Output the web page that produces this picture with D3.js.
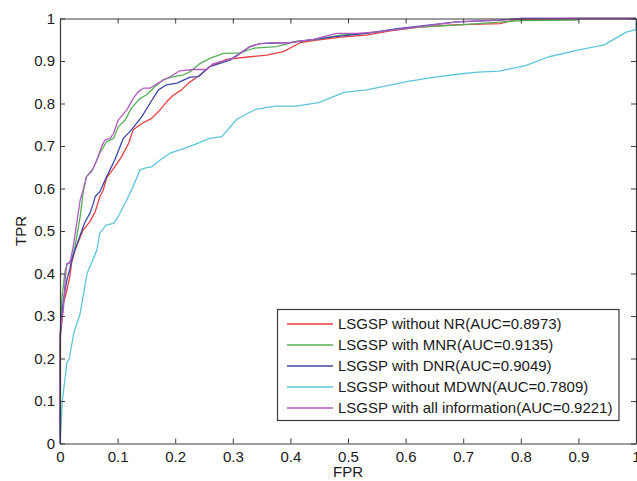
<!DOCTYPE html>
<html>
<head>
<meta charset="utf-8">
<script src="https://cdn.jsdelivr.net/npm/d3@7"></script>
<style>
  html, body { margin: 0; padding: 0; background: #fff; }
  svg { display: block; font-family: Arial, "Liberation Sans", sans-serif; }
</style>
</head>
<body>
<svg id="chart" width="637" height="481"></svg>
<script>
// ---- Data (FPR, TPR) ----
const seriesNames = [
  "LSGSP without NR(AUC=0.8973)",
  "LSGSP with MNR(AUC=0.9135)",
  "LSGSP with DNR(AUC=0.9049)",
  "LSGSP without MDWN(AUC=0.7809)",
  "LSGSP with all information(AUC=0.9221)"
];
const seriesColors = ["#e8403f", "#55b055", "#3c48aa", "#5cc6dc", "#b25cc0"];

const withoutNR = [[0,0],[0,.25],[.003,.283],[.006,.33],[.012,.361],[.017,.392],[.020,.424],[.026,.455],[.032,.475],[.040,.502],[.052,.522],[.061,.545],[.069,.58],[.075,.596],[.081,.625],[.095,.651],[.107,.675],[.119,.706],[.127,.738],[.142,.753],[.159,.765],[.171,.781],[.185,.804],[.197,.820],[.211,.832],[.223,.848],[.243,.867],[.260,.887],[.289,.904],[.330,.910],[.359,.914],[.388,.922],[.417,.943],[.446,.949],[.492,.957],[.532,.961],[.573,.971],[.625,.980],[.683,.985],[.764,.988],[.793,.998],[.89,1],[1,1]];
const withMNR = [[0,0],[0,.24],[.003,.338],[.009,.408],[.012,.42],[.020,.432],[.026,.463],[.035,.534],[.040,.589],[.046,.628],[.058,.648],[.069,.683],[.081,.710],[.093,.718],[.101,.745],[.113,.761],[.124,.789],[.139,.812],[.150,.820],[.165,.840],[.179,.856],[.197,.863],[.214,.867],[.226,.875],[.243,.894],[.260,.906],[.284,.918],[.313,.919],[.336,.930],[.376,.934],[.411,.947],[.446,.951],[.486,.961],[.532,.965],[.573,.973],[.625,.980],[.694,.985],[.799,.995],[.897,.996],[.9,1],[1,1]];
const withDNR = [[0,0],[0,.24],[.003,.298],[.006,.338],[.012,.385],[.017,.41],[.020,.43],[.026,.455],[.035,.49],[.043,.52],[.052,.542],[.058,.565],[.061,.581],[.069,.592],[.081,.628],[.095,.667],[.110,.718],[.124,.738],[.142,.769],[.156,.80],[.171,.832],[.185,.844],[.203,.848],[.226,.862],[.240,.863],[.260,.887],[.295,.902],[.330,.934],[.347,.941],[.40,.943],[.474,.957],[.532,.965],[.590,.977],[.689,.992],[.764,.996],[.80,1],[1,1]];
const withoutMDWN = [[0,0],[.004,.1],[.012,.19],[.016,.2],[.024,.26],[.035,.306],[.047,.40],[.064,.455],[.069,.495],[.080,.514],[.093,.518],[.101,.534],[.116,.573],[.127,.605],[.139,.644],[.150,.649],[.159,.651],[.174,.667],[.191,.683],[.208,.691],[.231,.702],[.260,.718],[.281,.722],[.307,.763],[.339,.786],[.374,.794],[.410,.794],[.449,.802],[.493,.826],[.532,.832],[.569,.842],[.604,.852],[.651,.862],[.697,.870],[.726,.874],[.762,.876],[.808,.889],[.849,.910],[.901,.926],[.945,.938],[.983,.968],[1,.974],[1,1]];
const withAll = [[0,0],[0,.26],[.006,.318],[.009,.385],[.012,.424],[.017,.424],[.023,.463],[.029,.518],[.035,.573],[.040,.596],[.046,.628],[.055,.640],[.064,.667],[.072,.698],[.078,.714],[.087,.718],[.093,.730],[.101,.761],[.116,.785],[.127,.812],[.136,.828],[.145,.836],[.156,.836],[.174,.851],[.191,.863],[.208,.877],[.231,.880],[.255,.880],[.266,.894],[.301,.906],[.330,.934],[.347,.941],[.370,.943],[.399,.943],[.440,.951],[.480,.965],[.515,.965],[.556,.969],[.602,.977],[.689,.992],[.764,.996],[.80,1],[1,1]];

const xTicks = [0, 0.1, 0.2, 0.3, 0.4, 0.5, 0.6, 0.7, 0.8, 0.9, 1];
const yTicks = [0, 0.1, 0.2, 0.3, 0.4, 0.5, 0.6, 0.7, 0.8, 0.9, 1];
const tickLabels = ["0", "0.1", "0.2", "0.3", "0.4", "0.5", "0.6", "0.7", "0.8", "0.9", "1"];
const xLabel = "FPR", yLabel = "TPR";

// ---- Layout ----
const svg = d3.select("#chart");
const L = 60, R = 636, T = 18.5, B = 443.5;
const x = d3.scaleLinear().domain([0, 1]).range([L, R]);
const y = d3.scaleLinear().domain([0, 1]).range([B, T]);
const axisColor = "#3a3a3a";
const fmt = d => tickLabels[xTicks.indexOf(d)];

// curves (drawn first, box on top)
const allSeries = [withoutNR, withMNR, withDNR, withoutMDWN, withAll];
const line = d3.line().x(d => x(d[0])).y(d => y(d[1]));
const plot = svg.append("g");
allSeries.forEach((s, i) => {
  plot.append("path").datum(s)
    .attr("d", line)
    .attr("fill", "none")
    .attr("stroke", seriesColors[i])
    .attr("stroke-width", 1.3)
    .attr("stroke-linejoin", "round");
});

// axes (inward ticks on all sides)
function styleAxis(g) {
  g.selectAll(".domain").attr("stroke", axisColor).attr("stroke-width", 1.2);
  g.selectAll(".tick line").attr("stroke", axisColor).attr("stroke-width", 1);
  g.selectAll(".tick text").attr("fill", "#1a1a1a").style("font-size", "15px")
    .style("font-family", "Arial, 'Liberation Sans', sans-serif");
}
svg.append("g").attr("transform", `translate(0,${B})`)
  .call(d3.axisBottom(x).tickValues(xTicks).tickFormat(fmt).tickSizeInner(-5).tickSizeOuter(0).tickPadding(7.5))
  .call(styleAxis);
svg.append("g").attr("transform", `translate(${L},0)`)
  .call(d3.axisLeft(y).tickValues(yTicks).tickFormat(fmt).tickSizeInner(-5).tickSizeOuter(0).tickPadding(5))
  .call(styleAxis);
svg.append("g").attr("transform", `translate(0,${T})`)
  .call(d3.axisTop(x).tickValues(xTicks).tickFormat("").tickSizeInner(-5).tickSizeOuter(0))
  .call(styleAxis);
svg.append("g").attr("transform", `translate(${R},0)`)
  .call(d3.axisRight(y).tickValues(yTicks).tickFormat("").tickSizeInner(-5).tickSizeOuter(0))
  .call(styleAxis);

// axis labels
svg.append("text").attr("x", (L + R) / 2).attr("y", 477)
  .attr("text-anchor", "middle").style("font-size", "15px").attr("fill", "#1a1a1a").text(xLabel);
svg.append("text").attr("transform", `translate(26,${(T + B) / 2}) rotate(-90)`)
  .attr("text-anchor", "middle").style("font-size", "15px").attr("fill", "#1a1a1a").text(yLabel);

// legend
const lg = svg.append("g");
lg.append("rect").attr("x", 277.5).attr("y", 309.5).attr("width", 341.5).attr("height", 111)
  .attr("fill", "#fff").attr("stroke", axisColor).attr("stroke-width", 1.2);
seriesNames.forEach((name, i) => {
  const yy = 324 + i * 21;
  lg.append("line").attr("x1", 287).attr("x2", 333).attr("y1", yy).attr("y2", yy)
    .attr("stroke", seriesColors[i]).attr("stroke-width", 1.3);
  lg.append("text").attr("x", 338).attr("y", yy + 5.3)
    .style("font-size", "15px").attr("fill", "#1a1a1a").text(name);
});
</script>
</body>
</html>
